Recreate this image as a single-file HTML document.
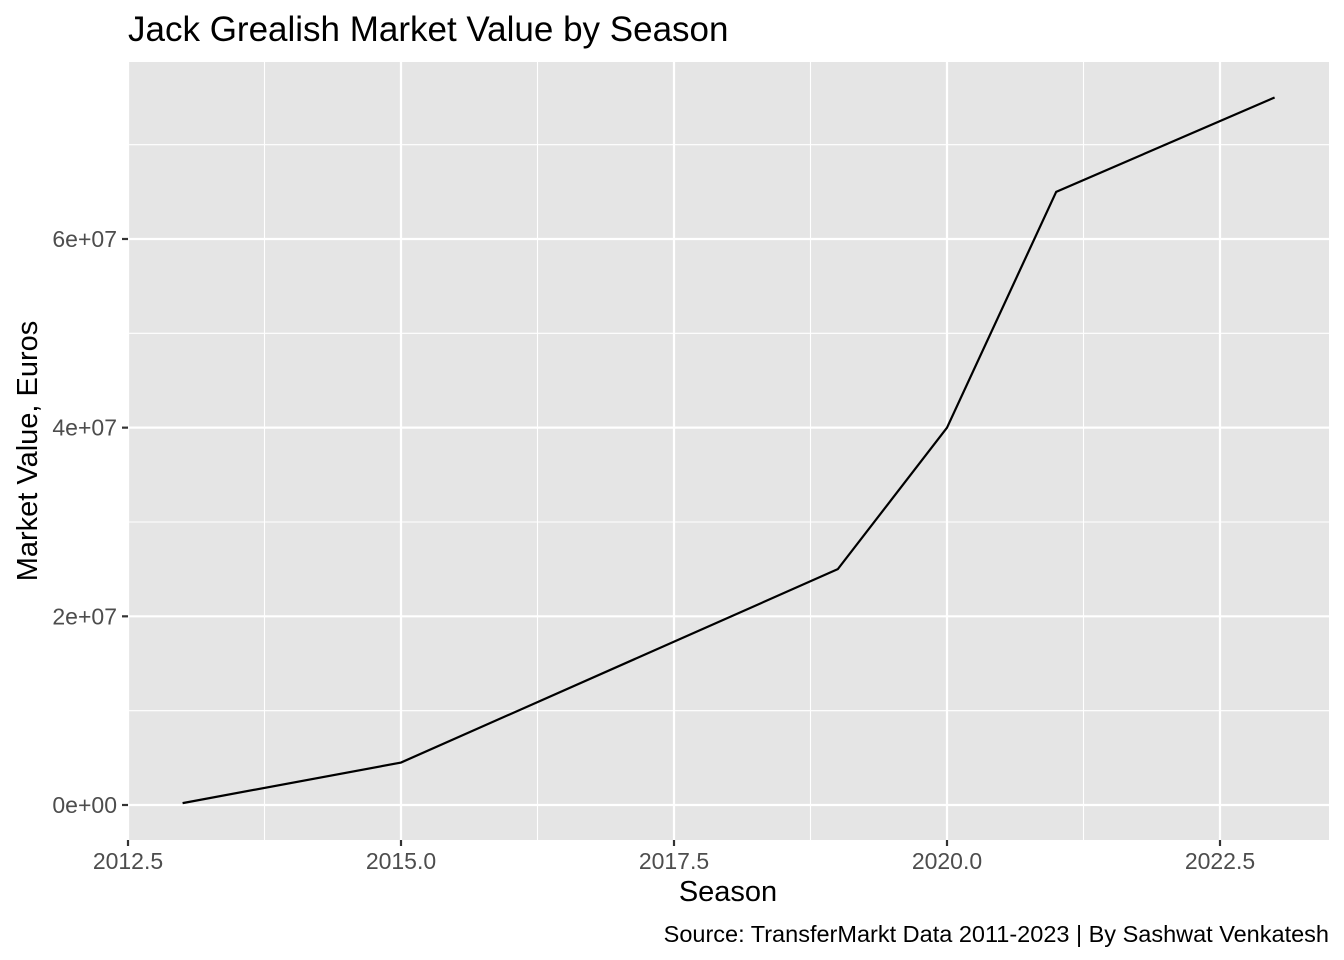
<!DOCTYPE html>
<html><head><meta charset="utf-8"><style>
html,body{margin:0;padding:0;background:#fff;}
svg{display:block;font-family:"Liberation Sans",Arial,sans-serif;}
</style></head><body>
<svg id="chart" width="1344" height="960" viewBox="0 0 1344 960">
<text x="128" y="41" font-size="35" fill="#000">Jack Grealish Market Value by Season</text>
<rect x="128" y="62" width="1201" height="778" fill="#e5e5e5"/>
<g id="grid"></g>
<g id="axes"></g>
<g id="series"></g>
<text x="728" y="901" font-size="29" text-anchor="middle" fill="#000">Season</text>
<text transform="translate(37,451) rotate(-90)" font-size="29" text-anchor="middle" fill="#000">Market Value, Euros</text>
<text x="1329" y="942" font-size="23.5" text-anchor="end" fill="#000">Source: TransferMarkt Data 2011-2023 | By Sashwat Venkatesh</text>
</svg>
<script>
const seasons=[2013,2015,2019,2020,2021,2023];
const values=[200000,4500000,25000000,40000000,65000000,75000000];
const xTicks=[2012.5,2015,2017.5,2020,2022.5];
const xTickLabels=["2012.5","2015.0","2017.5","2020.0","2022.5"];
const yTicks=[0,20000000,40000000,60000000];
const yTickLabels=["0e+00","2e+07","4e+07","6e+07"];
const NS="http://www.w3.org/2000/svg";
const x=v=>128+(v-2012.5)*109.2;
const y=v=>805-v/2e7*188.67;
const grid=document.getElementById('grid'),axes=document.getElementById('axes'),series=document.getElementById('series');
function mk(tag,attrs,parent){const e=document.createElementNS(NS,tag);for(const k in attrs)e.setAttribute(k,attrs[k]);parent.appendChild(e);return e;}
for(let i=0;i<xTicks.length-1;i++){const m=(xTicks[i]+xTicks[i+1])/2;const l=mk('line',{x1:x(m),x2:x(m),y1:62,y2:840,stroke:'#fff','stroke-width':1.1},grid);

}
const yMinor=[];for(let i=0;i<yTicks.length;i++)yMinor.push(yTicks[i]+1e7);
yMinor.forEach(v=>{const l=mk('line',{x1:128,x2:1329,y1:y(v),y2:y(v),stroke:'#fff','stroke-width':1.1},grid);

});
xTicks.forEach((t,i)=>{const l=mk('line',{x1:x(t),x2:x(t),y1:62,y2:840,stroke:'#fff','stroke-width':2.2},grid);


const tk=mk('line',{x1:x(t),x2:x(t),y1:840,y2:846,stroke:'#333','stroke-width':2.2},axes);


const tx=mk('text',{x:x(t),y:869,'font-size':23,'text-anchor':'middle',fill:'#4d4d4d'},axes);tx.textContent=xTickLabels[i];

});
yTicks.forEach((t,i)=>{const l=mk('line',{x1:128,x2:1329,y1:y(t),y2:y(t),stroke:'#fff','stroke-width':2.2},grid);


const tk=mk('line',{x1:122,x2:128,y1:y(t),y2:y(t),stroke:'#333','stroke-width':2.2},axes);


const tx=mk('text',{x:117,y:y(t)+8,'font-size':23,'text-anchor':'end',fill:'#4d4d4d'},axes);tx.textContent=yTickLabels[i];

});
const pts=seasons.map((s,i)=>x(s)+','+y(values[i])).join(' ');
const pl=mk('polyline',{points:pts,fill:'none',stroke:'#000','stroke-width':2.2},series);


</script>
</body></html>
